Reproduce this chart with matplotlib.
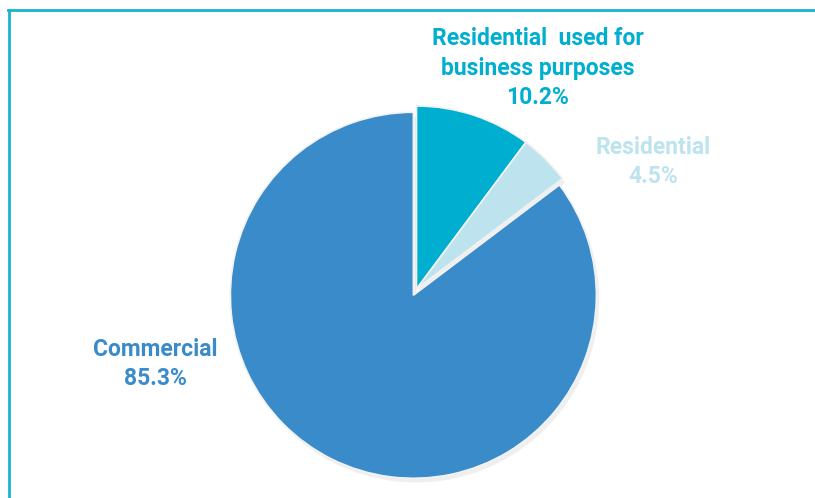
import matplotlib
matplotlib.use('Agg')
import matplotlib.pyplot as plt
import matplotlib.patheffects as pe
from matplotlib.lines import Line2D

labels = ['Residential  used for\nbusiness purposes', 'Residential', 'Commercial']
shares = [10.2, 4.5, 85.3]
colors = ['#00AECF', '#BDE3EE', '#3A8BC9']
explode = [0, 0, 7]

plt.rcParams['font.family'] = ['Roboto', 'DejaVu Sans']

fig = plt.figure(figsize=(8.15, 4.98), dpi=100)
ax = fig.add_axes([0, 0, 1, 1])

shadow = [pe.SimplePatchShadow(offset=(2, -3), shadow_rgbFace='#999999', alpha=0.15), pe.Normal()]
wedges, _ = ax.pie(shares, colors=colors, startangle=90, counterclock=False,
                   explode=explode, radius=183, center=(416.5, 209),
                   wedgeprops=dict(edgecolor='#f2f2f2', linewidth=1.2, path_effects=shadow))
ax.set_xlim(0, 815)
ax.set_ylim(0, 498)
ax.set_aspect('equal')
ax.axis('off')

# labels
label_pos = [(538, 430), (653, 336), (155, 134)]
for lab, v, c, (x, y) in zip(labels, shares, colors, label_pos):
    ax.text(x, y, f'{lab}\n{v}%', color=c, fontsize=16.5, fontweight='bold',
            ha='center', va='center', linespacing=1.35)

# frame lines
fig.add_artist(Line2D([8 / 815, 1], [1 - 10 / 498, 1 - 10 / 498], color='#19B3D0', lw=2))
fig.add_artist(Line2D([9 / 815, 9 / 815], [0, 1 - 10 / 498], color='#19B3D0', lw=2))

fig.savefig('out.png', dpi=100)
